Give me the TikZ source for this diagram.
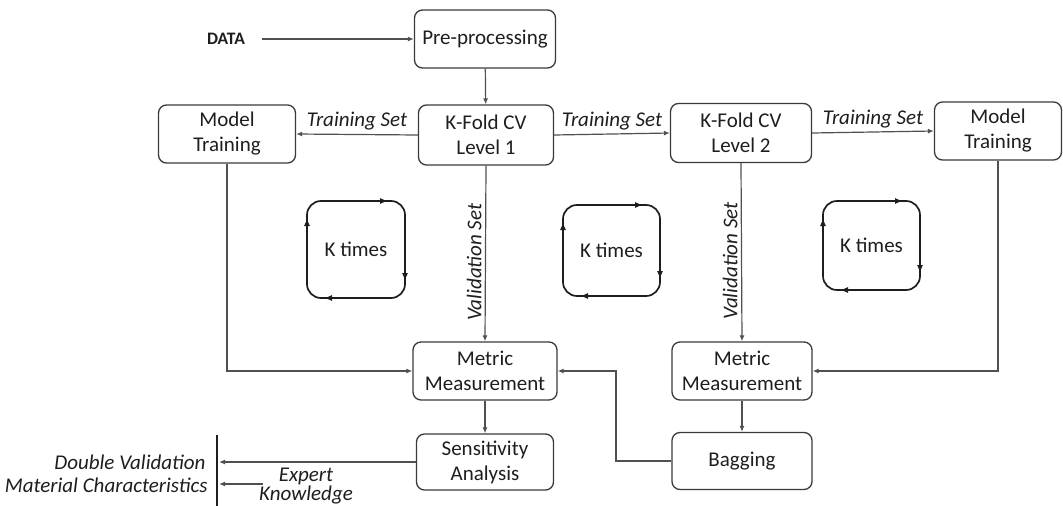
\documentclass[tikz,border=0pt]{standalone}
\usepackage{fontspec}
\setmainfont{Carlito}
\usetikzlibrary{arrows.meta}
\definecolor{boxline}{HTML}{3A3A3A}
\definecolor{conn}{HTML}{505050}
\definecolor{ink}{HTML}{1E1E1E}
\begin{document}
\begin{tikzpicture}[x=1pt,y=-1pt,
  every node/.style={text=ink,font=\fontsize{21}{25}\selectfont},
  box/.style={draw=boxline,line width=1.3pt,rounded corners=8pt,align=center,inner sep=2pt},
  arr/.style={draw=conn,line width=1.2pt,-{Latex[length=6pt,width=5pt]}},
  lbl/.style={font=\fontsize{21}{25}\selectfont\itshape},
  loopline/.style={draw=ink,line width=1.7pt,rounded corners=14pt},
  looptip/.style={draw=ink,line width=1.2pt,-{Latex[length=8pt,width=6pt]}}]
\useasboundingbox (0,0) rectangle (1063,506);

% main boxes
\node[box,minimum width=141pt,minimum height=58pt] (pre) at (485,39) {Pre-processing};
\node[box,minimum width=135pt,minimum height=60pt] (k1)  at (486,135) {K-Fold CV\\Level 1};
\node[box,minimum width=137pt,minimum height=58pt] (mtL) at (227,134) {Model\\Training};
\node[box,minimum width=141pt,minimum height=59pt] (k2)  at (741,133) {K-Fold CV\\Level 2};
\node[box,minimum width=127pt,minimum height=58pt] (mtR) at (998,131) {Model\\Training};
\node[box,minimum width=144pt,minimum height=58pt] (m1)  at (485,371) {Metric\\Measurement};
\node[box,minimum width=140pt,minimum height=58pt] (m2)  at (742,371) {Metric\\Measurement};
\node[box,minimum width=137pt,minimum height=56pt] (sens) at (485,462) {Sensitivity\\Analysis};
\node[box,minimum width=140pt,minimum height=57pt] (bag) at (742,461) {Bagging};

% free texts
\node[font=\fontsize{17.5}{20}\selectfont\bfseries] (data) at (226,39) {DATA};
\node[lbl,anchor=east] (dv) at (209,462) {Double Validation};
\node[lbl,anchor=east] (mc) at (211,485) {Material Characteristics};
\node[lbl,align=center,font=\fontsize{21}{14}\selectfont\itshape] (ek) at (306,486) {Expert\\Knowledge};

% connectors along the top
\draw[arr,shorten <=14pt] (data.east) -- (pre.west);
\draw[arr] (pre) -- (k1);
\draw[arr] (k1.west) -- node[lbl,above=0pt] {Training Set} (mtL.east);
\draw[arr] (k1.east) -- node[lbl,above=0pt] {Training Set} (k2.west);
\draw[arr] (k2.east) -- node[lbl,above=0pt] {Training Set} (mtR.west);

% validation paths
\draw[arr] (k1.south) -- node[lbl,rotate=90,above=0pt,pos=0.55] {Validation Set} (m1.north);
\draw[arr] (k2.south) -- node[lbl,rotate=90,above=0pt,pos=0.55] {Validation Set} (m2.north);

% model training results into metric measurement
\draw[arr] (mtL.south) |- (m1.west);
\draw[arr] (mtR.south) |- (m2.east);

% lower chain
\draw[arr] (m1) -- (sens);
\draw[arr] (m2) -- (bag);
\coordinate (bj) at (616,461);
\draw[arr] (bag.west) -- (bj) |- (m1.east);

% outputs on the left
\coordinate (bartop) at (217,435);
\coordinate (barbot) at (217,506);
\draw[draw=ink,line width=1.5pt] (bartop) -- (barbot);
\coordinate (dvin) at (219,462);
\coordinate (mcin) at (219,484);
\coordinate (ekout) at (263,484);
\draw[arr] (sens.west) -- (dvin);
\draw[arr] (ekout) -- (mcin);

% repetition loops
\newcommand\kloop[5]{%
  \node (#5) at ({(#1+#3)/2},{(#2+#4)/2}) {K times};
  \draw[loopline] (#1,#2) rectangle (#3,#4);
  \draw[looptip] ({#3-30},#2) -- ({#3-17},#2);
  \draw[looptip] (#3,{#4-30}) -- (#3,{#4-17});
  \draw[looptip] ({#1+30},#4) -- ({#1+17},#4);
  \draw[looptip] (#1,{#2+30}) -- (#1,{#2+17});
}
\kloop{307}{201}{405}{298}{kt1}
\kloop{563}{205}{660}{296}{kt2}
\kloop{823}{201}{920}{290}{kt3}
\end{tikzpicture}
\end{document}
